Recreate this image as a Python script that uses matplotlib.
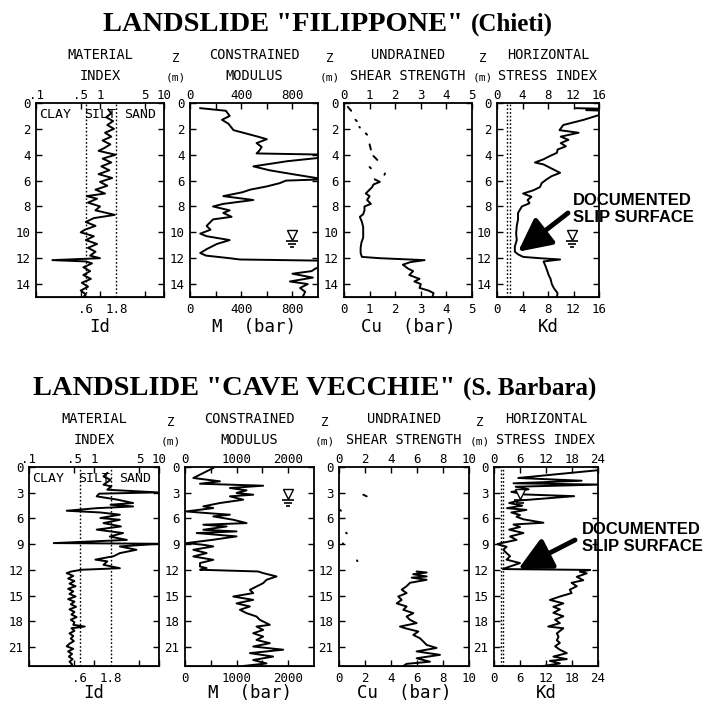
import numpy as np
import matplotlib.pyplot as plt
from matplotlib.ticker import NullLocator
from matplotlib.transforms import ScaledTranslation

plt.rcParams['font.family'] = 'DejaVu Sans Mono'
nan = np.nan

# ---------------- LANDSLIDE "FILIPPONE" (Chieti) ----------------
fil_id_z = [0.5, 0.8, 1.1, 1.4, 1.7, 2.0, 2.3, 2.6, 2.9, 3.2, 3.5, 3.7, 4.0, 4.3, 4.6,
            4.9, 5.2, 5.5, 5.8, 6.1, 6.4, 6.7, 7.0, 7.2, 7.4, 7.7, 8.0, 8.3, 8.65, 8.9,
            9.2, 9.5, 9.8, 10.0, 10.3, 10.6, 10.9, 11.2, 11.5, 11.8, 12.0, 12.15, 12.25,
            12.4, 12.7, 13.0, 13.3, 13.6, 13.9, 14.2, 14.5, 14.8, 15.0]
fil_id = [1.35, 1.5, 1.25, 1.6, 1.3, 1.65, 1.2, 1.5, 1.1, 1.45, 1.15, 0.95, 1.75, 1.1, 1.5,
          1.05, 1.4, 0.95, 1.55, 1.0, 1.3, 0.85, 1.2, 0.62, 0.9, 0.65, 1.0, 0.85, 1.7, 0.8,
          0.6, 0.85, 0.58, 0.5, 0.8, 0.6, 0.9, 0.65, 0.85, 0.7, 1.0, 0.18, 0.6,
          0.75, 0.55, 0.7, 0.55, 0.72, 0.52, 0.65, 0.5, 0.6, 0.55]

fil_m_z = [0.4, 0.6, 1.0, 1.3, 1.6, 2.1, 2.6, 2.8, 3.1, 3.4, 3.7, 3.9, 4.0, 4.2, 4.5,
           4.9, 5.2, 5.5, 5.9, 6.0, 6.2, 6.45, 6.7, 6.9, 7.2, 7.5, 7.8, 8.0, 8.3, 8.5,
           8.8, 9.0, 9.5, 9.8, 10.1, 10.3, 10.6, 10.9, 11.3, 11.6, 11.8, 12.0, 12.1, 12.2,
           12.5, 12.8, 13.0, 13.2, 13.5, 13.8, 14.0, 14.3, 14.6, 15.0]
fil_m = [80, 280, 310, 250, 300, 340, 530, 600, 520, 560, 540, 520, 1100, 1050, 760,
         495, 620, 800, 1050, 750, 700, 600, 470, 410, 260, 495, 260, 180, 310, 260,
         325, 180, 130, 160, 80, 130, 310, 210, 130, 80, 125, 310, 390, 1100,
         1080, 980, 950, 800, 960, 780, 920, 860, 900, 880]

fil_cu_z = [0.3, 0.6, nan, 1.3, 1.4, nan, 1.85, 1.9, nan, 2.35, 2.45, nan, 3.2, 3.6, nan,
            4.1, 4.4, nan, 4.95, 5.05, nan, 5.45, 5.55, nan,
            5.9, 6.1, 6.3, 6.5, 6.8, 7.0, 7.2, 7.5, 7.8, 8.0, 8.3, 8.6, 8.8, 9.2, 9.6,
            10.0, 10.4, 10.8, 11.2, 11.6, 11.9, 12.0, 12.15, 12.3, 12.5, 12.8, 13.0, 13.3,
            13.6, 13.8, 14.0, 14.3, 14.5, 14.7, 15.0]
fil_cu = [0.15, 0.28, nan, 0.45, 0.5, nan, 0.6, 0.62, nan, 0.85, 0.9, nan, 1.0, 1.05, nan,
          1.15, 1.3, nan, 1.0, 1.05, nan, 1.6, 1.58, nan,
          1.2, 1.4, 1.15, 1.1, 0.95, 0.85, 1.0, 0.9, 1.05, 0.8, 0.8, 0.75, 0.62, 0.7, 0.75,
          0.75, 0.75, 0.68, 0.65, 0.65, 0.7, 1.4, 3.15, 2.6, 2.3, 2.5, 2.7, 2.55,
          2.95, 2.75, 3.0, 2.95, 3.3, 3.5, 3.45]

fil_kd_z = [0.4, 0.45, 0.55, 0.6, 0.9, 1.3, 1.7, 2.1, 2.3, 2.6, 2.85, 3.1, 3.35, 3.6, 3.85,
            4.1, 4.35, 4.6, 4.75, 5.0, 5.4, 5.65, 5.9, 6.2, 6.5, 6.75, 7.0, 7.25, 7.5, 7.75,
            8.0, 8.25, 8.5, 9.0, 9.5, 10.1, 10.6, 11.1, 11.5, 11.7, 11.9, 12.0, 12.1, 12.25,
            12.6, 13.0, 13.3, 13.6, 14.0, 14.3, 14.7, 15.0]
fil_kd = [12.4, 17, 14, 17, 16.2, 13.6, 10.4, 9.8, 12.8, 10.0, 11.2, 10.0, 10.8, 9.5, 9.4,
          8.3, 7.3, 5.95, 7.3, 8.3, 9.9, 8.6, 7.8, 7.0, 6.75, 5.7, 4.1, 5.4, 4.8, 5.1,
          3.9, 3.6, 3.3, 3.3, 3.1, 3.0, 3.1, 2.8, 2.8, 3.3, 4.1, 6.7, 9.9, 7.3,
          7.6, 7.9, 8.1, 8.4, 8.6, 8.9, 9.5, 9.4]

# ---------------- LANDSLIDE "CAVE VECCHIE" (S. Barbara) ----------------
cv_id_z = [0.7, 1.1, 1.5, 2.06, 2.26, 2.65, 2.96, 3.11, 3.42, 3.81, 4.2, 4.4, 4.6, 4.8, 5.1,
           5.3, 5.56, 5.95, 6.15, 6.54, 6.93, 7.3, 7.7, 8.1, 8.5, 8.87, 8.95, 9.26, 9.65,
           10.04, 10.4, 10.8, 11.0, 11.4, 11.8, 11.98, 12.18, 12.37,
           12.7, 13.0, 13.3, 13.6, 13.9, 14.2, 14.5, 14.8, 15.1, 15.4, 15.7, 16.0, 16.3,
           16.6, 16.9, 17.2, 17.5, 17.8, 18.1, 18.4, 18.6, 18.8, 19.1, 19.4, 19.7, 20.0,
           20.3, 20.6, 20.9, 21.2, 21.5, 21.8, 22.1, 22.4, 22.7, 23.0, 23.2]
cv_id = [1.6, 1.4, 1.8, 1.4, 1.85, 1.6, 9.5, 1.2, 1.1, 2.3, 4.0, 1.8, 4.0, 1.1, 0.38,
         1.25, 2.5, 1.25, 2.5, 1.4, 2.6, 1.1, 2.8, 1.75, 3.2, 0.24, 10.5, 2.5, 4.5,
         2.5, 2.0, 1.05, 1.6, 1.4, 2.5, 0.64, 0.45, 0.38,
         0.48, 0.4, 0.5, 0.42, 0.52, 0.4, 0.48, 0.42, 0.52, 0.4, 0.5, 0.44, 0.53,
         0.42, 0.5, 0.45, 0.54, 0.44, 0.5, 0.48, 0.72, 0.45, 0.5, 0.42, 0.48, 0.44,
         0.49, 0.42, 0.38, 0.48, 0.4, 0.46, 0.41, 0.47, 0.42, 0.46, 0.44]

cv_m_z = [0.12, 0.7, 1.28, 1.67, 1.95, 2.18, 2.45, 2.72, 3.03, 3.23, 3.42, 3.81, 4.2, 4.59,
          4.79, 5.18, 5.37, 5.56, 5.76, 6.15, 6.54, 6.73, 6.93, 7.32, 7.51, 7.7, 8.09, 8.48,
          8.87, 9.07, 9.26, 9.65, 10.04, 10.43, 10.82, 11.2, 11.6, 11.79, 11.98, 12.18,
          12.37, 12.76, 13.15, 13.54, 13.93, 14.32, 14.7, 15.1, 15.49, 15.9, 16.26, 16.65,
          17.04, 17.43, 17.82, 18.4, 18.6, 18.99, 19.38, 19.77, 20.16, 20.54, 20.93, 21.3,
          21.7, 22.1, 22.5, 22.9, 23.2]
cv_m = [548, 355, 161, 677, 290, 1515, 870, 1193, 999, 1322, 870, 1128, 677, 355,
        548, 20, 419, 870, 548, 935, 1193, 355, 806, 355, 999, 226, 999, 548,
        32, 355, 548, 161, 419, 161, 548, 290, 290, 419, 290, 1418,
        1515, 1773, 1580, 1515, 1386, 1257, 1322, 935, 1322, 999, 1257, 1064,
        1193, 1386, 1451, 1644, 1386, 1515, 1322, 1515, 1386, 1644, 1322, 1902,
        1257, 1708, 1322, 1580, 1128]

cv_cu_z = [3.23, 3.42, nan, 5.02, 5.1, nan, 7.66, 7.74, nan, 8.91, 8.99, nan, 10.89, 10.97, nan,
           12.18, 12.3, 12.5, 12.76, 12.9, 13.15, 13.5, 13.9, 14.3, 14.7, 15.1, 15.49, 15.9,
           16.26, 16.65, 17.04, 17.43, 17.82, 18.2, 18.6, 18.8, 19.18, 19.58, 19.97, 20.35,
           20.74, 21.1, 21.5, 21.9, 22.3, 22.7, 22.95, 23.2]
cv_cu = [1.87, 2.13, nan, 0.1, 0.15, nan, 0.55, 0.6, nan, 0.3, 0.33, nan, 1.38, 1.42, nan,
         5.97, 6.74, 5.7, 6.74, 5.59, 6.74, 5.46, 5.2, 4.82, 5.2, 4.56, 4.82, 4.44,
         5.2, 4.95, 5.72, 5.2, 5.46, 5.97, 4.69, 5.1, 6.1, 5.72, 6.23, 6.49,
         6.74, 7.51, 5.97, 7.77, 5.97, 7.0, 5.2, 4.95]

cv_kd_z = [0.35, 1.28, 1.6, 1.9, 2.05, 2.3, 2.6, 2.9, 3.2, 3.4, 3.9, 4.2, 4.5, 4.8, 5.0,
           5.3, 5.6, 5.8, 6.1, 6.5, 6.7, 7.0, 7.3, 7.7, 8.1, 8.5, 8.9, 9.0, 9.3, 9.65,
           10.04, 10.4, 10.8, 11.2, 11.6, 11.9, 12.0, 12.2, 12.4, 12.8, 13.2, 13.5, 13.9,
           14.3, 14.7, 15.1, 15.5, 15.9, 16.3, 16.6, 17.0, 17.4, 17.8, 18.2, 18.6, 18.8,
           19.4, 19.8, 20.2, 20.5, 20.9, 21.3, 21.7, 22.1, 22.4, 22.6, 22.9, 23.2]
cv_kd = [24.5, 5.6, 20.2, 4.5, 24.5, 5.0, 8.0, 4.0, 7.0, 18.5, 6.0, 3.5, 6.5, 3.0, 7.5,
         4.0, 6.0, 5.2, 6.8, 11.4, 4.5, 6.0, 3.5, 6.8, 3.7, 5.2, 1.4, 0.8, 2.9, 2.15,
         2.9, 3.7, 2.9, 6.0, 3.7, 2.0, 22.2, 19.8, 21.4, 19.1, 20.6, 17.9, 19.1,
         17.5, 17.9, 15.2, 12.9, 16.0, 13.7, 15.2, 13.7, 16.0, 14.1, 15.2, 12.5, 16.0,
         14.5, 14.9, 14.5, 15.2, 14.1, 15.2, 16.8, 13.7, 16.8, 12.9, 15.2, 11.4]

# reference lines and water table
id_bounds = [0.6, 1.8]
kd_bounds = [1.5, 2.0]
fil_wt = {'z': 10.2, 'm': 800, 'kd': 11.7}
cv_wt = {'z': 3.2, 'm': 2000, 'kd': 6.0}

W, H = 718, 705
fig = plt.figure(figsize=(W / 100, H / 100), dpi=100)


def rect(x0, y0, x1, y1):
    return [x0 / W, 1 - y1 / H, (x1 - x0) / W, (y1 - y0) / H]


def setup(ax, xlim, zmax, zticks, ticks, labels, minor=(), bticks=None, blabels=None, log=False):
    if log:
        ax.set_xscale('log')
    ax.set_xlim(*xlim)
    ax.set_ylim(zmax, 0)
    ax.set_yticks(zticks)
    ax.set_xticks(ticks, labels)
    ax.xaxis.set_minor_locator(NullLocator())
    if len(minor):
        ax.set_xticks(minor, minor=True)
    ax.tick_params(which='both', direction='in', top=True, right=True, length=4, width=1,
                   labelsize=9, labeltop=True, labelbottom=False)
    ax.tick_params(axis='x', pad=1)
    ax.tick_params(axis='y', pad=4)
    sec = ax.secondary_xaxis('bottom')
    sec.set_xticks(ticks if bticks is None else bticks, labels if blabels is None else blabels)
    sec.xaxis.set_minor_locator(NullLocator())
    sec.tick_params(which='both', length=0, pad=4, labelsize=9)
    for s in ax.spines.values():
        s.set_linewidth(1.3)


def water_table(ax, x, z):
    ax.plot([x], [z], marker='v', ms=7, mfc='white', mec='black', mew=1)
    for dy, w in ((6, 9), (9, 6), (12, 2.5)):
        tr = ax.transData + ScaledTranslation(0, -dy / 100, fig.dpi_scale_trans)
        ax.plot([x], [z], marker='_', ms=w, mew=1.2, color='black', transform=tr)


def header(x0, x1, ytop, l1, l2):
    cx = (x0 + x1) / 2 / W
    fig.text(cx, 1 - (ytop - 48) / H, l1, ha='center', va='center', fontsize=9.8)
    fig.text(cx, 1 - (ytop - 27) / H, l2, ha='center', va='center', fontsize=9.8)


def zlabel(x0, ytop):
    fig.text((x0 - 14) / W, 1 - (ytop - 44) / H, 'Z', ha='center', va='center', fontsize=9)
    fig.text((x0 - 14) / W, 1 - (ytop - 26) / H, '(m)', ha='center', va='center', fontsize=8)


def xlabel(x0, x1, y, s):
    fig.text((x0 + x1) / 2 / W, 1 - y / H, s, ha='center', va='center', fontsize=12.5)


lw = 1.4
rows = [
    dict(top=103, bot=297, zmax=15, zticks=range(0, 15, 2),
         xs=[(36, 164), (190, 318), (344, 472), (497, 599)],
         idz=fil_id_z, idv=fil_id, mz=fil_m_z, mv=fil_m, cz=fil_cu_z, cv=fil_cu,
         kz=fil_kd_z, kv=fil_kd, wt=fil_wt,
         mlim=(0, 1000), mt=[0, 400, 800], mmin=[200, 600],
         clim=(0, 5), ct=[0, 1, 2, 3, 4, 5],
         klim=(0, 16), kt=[0, 4, 8, 12, 16], xl=327,
         title='LANDSLIDE "FILIPPONE"', sub='(Chieti)', tx=103, ty=31,
         arrow_tip=(3.3, 11.5), arrow_tail=(568, 213), note=(573, 193)),
    dict(top=467, bot=666, zmax=23.2, zticks=range(0, 22, 3),
         xs=[(29, 159), (185, 314), (339, 469), (494, 598)],
         idz=cv_id_z, idv=cv_id, mz=cv_m_z, mv=cv_m, cz=cv_cu_z, cv=cv_cu,
         kz=cv_kd_z, kv=cv_kd, wt=cv_wt,
         mlim=(0, 2500), mt=[0, 1000, 2000], mmin=[500, 1500],
         clim=(0, 10), ct=[0, 2, 4, 6, 8, 10],
         klim=(0, 24), kt=[0, 6, 12, 18, 24], xl=693,
         title='LANDSLIDE "CAVE VECCHIE"', sub='(S. Barbara)', tx=33, ty=395,
         arrow_tip=(5.6, 11.9), arrow_tail=(575, 540), note=(582, 522)),
]

for r in rows:
    top, bot, xs = r['top'], r['bot'], r['xs']
    axs = [fig.add_axes(rect(x0, top, x1, bot)) for x0, x1 in xs]

    # material index
    a = axs[0]
    setup(a, (0.1, 10), r['zmax'], r['zticks'], [0.1, 0.5, 1, 5, 10], ['.1', '.5', '1', '5', '10'],
          bticks=id_bounds, blabels=['.6', '1.8'], log=True)
    for b in id_bounds:
        a.axvline(b, color='black', lw=1, ls=(0, (1.2, 1.5)))
    a.plot(r['idv'], r['idz'], color='black', lw=lw)
    for s, xv in (('CLAY', 0.2), ('SILT', 1.0), ('SAND', 4.3)):
        a.text(xv, 0.975, s, transform=a.get_xaxis_transform(), ha='center', va='top',
               fontsize=9.5)

    # constrained modulus
    a = axs[1]
    setup(a, r['mlim'], r['zmax'], r['zticks'], r['mt'], [str(t) for t in r['mt']], minor=r['mmin'])
    a.plot(r['mv'], r['mz'], color='black', lw=lw)
    water_table(a, r['wt']['m'], r['wt']['z'])

    # undrained shear strength
    a = axs[2]
    setup(a, r['clim'], r['zmax'], r['zticks'], r['ct'], [str(t) for t in r['ct']])
    a.plot(r['cv'], r['cz'], color='black', lw=lw, solid_capstyle='round')

    # horizontal stress index
    a = axs[3]
    setup(a, r['klim'], r['zmax'], r['zticks'], r['kt'], [str(t) for t in r['kt']])
    for b in kd_bounds:
        a.axvline(b, color='black', lw=1, ls=(0, (1.2, 1.5)))
    a.plot(r['kv'], r['kz'], color='black', lw=lw)
    water_table(a, r['wt']['kd'], r['wt']['z'])
    tx, ty = r['arrow_tail']
    a.annotate('', xy=r['arrow_tip'], xycoords='data',
               xytext=(tx / W, 1 - ty / H), textcoords='figure fraction',
               arrowprops=dict(arrowstyle='-|>,head_length=1.0,head_width=0.5', lw=3.5,
                               color='black', shrinkA=0, shrinkB=0, mutation_scale=20),
               annotation_clip=False)
    nx, ny = r['note']
    fig.text(nx / W, 1 - ny / H, 'DOCUMENTED\nSLIP SURFACE', ha='left', va='top',
             family='Liberation Sans', fontweight='bold', fontsize=12, linespacing=1.15)

    header(*xs[0], top, 'MATERIAL', 'INDEX')
    header(*xs[1], top, 'CONSTRAINED', 'MODULUS')
    header(*xs[2], top, 'UNDRAINED', 'SHEAR STRENGTH')
    header(*xs[3], top, 'HORIZONTAL', 'STRESS INDEX')
    for x0, _ in xs[1:]:
        zlabel(x0, top)
    for (x0, x1), s in zip(xs, ['Id', 'M  (bar)', 'Cu  (bar)', 'Kd']):
        xlabel(x0, x1, r['xl'], s)

    # title: large main part followed by a smaller parenthetical
    t1 = fig.text(r['tx'] / W, 1 - r['ty'] / H, r['title'], ha='left', va='baseline',
                  family='Liberation Serif', fontweight='bold', fontsize=20.5)
    fig.canvas.draw()
    bb = t1.get_window_extent()
    fig.text((bb.x1 + 8) / W, 1 - r['ty'] / H, r['sub'], ha='left', va='baseline',
             family='Liberation Serif', fontweight='bold', fontsize=18)

fig.savefig('out.png', dpi=100)
